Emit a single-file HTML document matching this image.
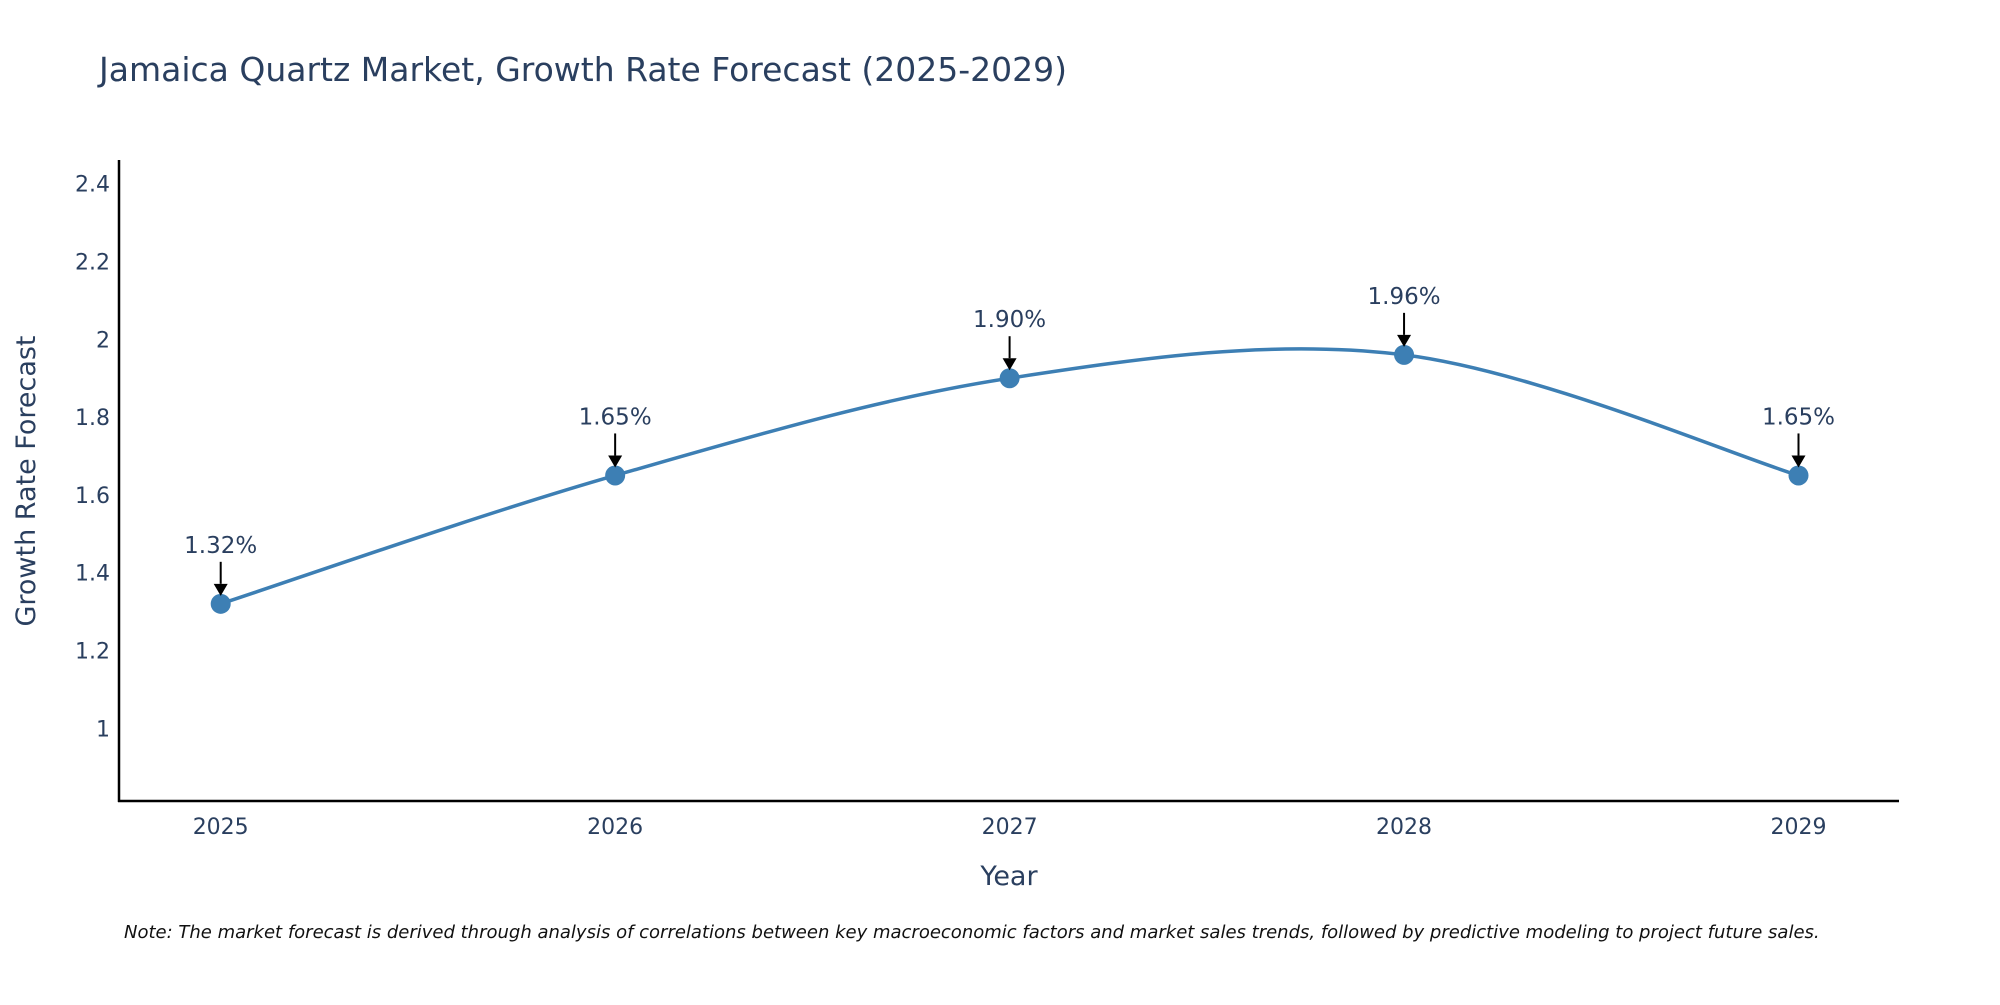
<!DOCTYPE html>
<html><head><meta charset="utf-8"><style>
body{margin:0;background:#fff;}
svg text{font-family:"DejaVu Sans","Liberation Sans",sans-serif;fill:#2a3f5f;}
</style></head><body>
<svg id="chart" width="2000" height="1000" xmlns="http://www.w3.org/2000/svg">
<text x="99" y="81" font-size="33">Jamaica Quartz Market, Growth Rate Forecast (2025-2029)</text>
<g id="yticks"></g>
<g id="xticks"></g>
<line x1="119" y1="160" x2="119" y2="802" stroke="#000" stroke-width="2.5"/>
<line x1="118" y1="801" x2="1899" y2="801" stroke="#000" stroke-width="2.5"/>
<path id="line" fill="none" stroke="#3d7fb4" stroke-width="3.5"/>
<g id="points"></g>
<g id="annots"></g>
<text x="1009" y="885" font-size="27" text-anchor="middle">Year</text>
<text transform="translate(35,481) rotate(-90)" font-size="27" text-anchor="middle">Growth Rate Forecast</text>
<text x="124" y="938" font-size="18" font-style="italic" style="fill:#111">Note: The market forecast is derived through analysis of correlations between key macroeconomic factors and market sales trends, followed by predictive modeling to project future sales.</text>
</svg>
<script>
const years=[2025,2026,2027,2028,2029];
const growth=[1.32,1.65,1.90,1.96,1.65];
const labels=["1.32%","1.65%","1.90%","1.96%","1.65%"];
const yTicks=[1,1.2,1.4,1.6,1.8,2,2.2,2.4];
const NS="http://www.w3.org/2000/svg";
const xS=v=>220.7+(v-2025)*394.45;
const yS=v=>728.3-(v-1)*389;
function mk(tag,attrs,parent){const e=document.createElementNS(NS,tag);for(const k in attrs)e.setAttribute(k,attrs[k]);parent.appendChild(e);return e;}
const yt=document.getElementById('yticks');
yTicks.forEach(t=>{const e=mk('text',{x:110,y:yS(t)+8,'font-size':22,'text-anchor':'end'},yt);


e.textContent=String(t);});
const xt=document.getElementById('xticks');
years.forEach(y=>{const e=mk('text',{x:xS(y),y:834,'font-size':22,'text-anchor':'middle'},xt);


e.textContent=String(y);});
const P=years.map((y,i)=>[xS(y),yS(growth[i])]);
let d="M"+P[0][0]+","+P[0][1];
for(let i=0;i<P.length-1;i++){const p0=P[Math.max(i-1,0)],p1=P[i],p2=P[i+1],p3=P[Math.min(i+2,P.length-1)];
const c1=[p1[0]+(p2[0]-p0[0])/6,p1[1]+(p2[1]-p0[1])/6],c2=[p2[0]-(p3[0]-p1[0])/6,p2[1]-(p3[1]-p1[1])/6];
d+=" C"+c1+" "+c2+" "+p2;}
document.getElementById('line').setAttribute('d',d);
const pts=document.getElementById('points'),an=document.getElementById('annots');
P.forEach((p,i)=>{const c=mk('circle',{cx:p[0],cy:p[1],r:10,fill:'#3d7fb4'},pts);


const l=mk('line',{x1:p[0],y1:p[1]-42,x2:p[0],y2:p[1]-20,stroke:'#000','stroke-width':2},an);


const h=mk('polygon',{points:`${p[0]-7},${p[1]-20} ${p[0]+7},${p[1]-20} ${p[0]},${p[1]-8}`,fill:'#000'},an);


const t=mk('text',{x:p[0],y:p[1]-51,'font-size':23,'text-anchor':'middle'},an);


t.textContent=labels[i];});
</script>
</body></html>
